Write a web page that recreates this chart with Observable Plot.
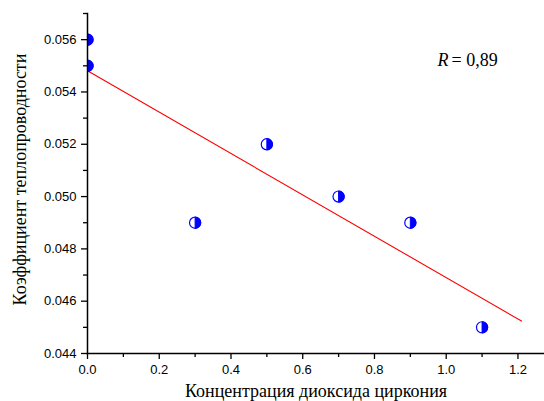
<!DOCTYPE html>
<html>
<head>
<meta charset="utf-8">
<script src="https://cdn.jsdelivr.net/npm/d3@7"></script>
<script src="https://cdn.jsdelivr.net/npm/@observablehq/plot@0.6"></script>
<style>
  html, body { margin: 0; padding: 0; background: #fff; }
</style>
</head>
<body>
<div id="chart"></div>
<script>
// Data
const concentration = [0, 0, 0.3, 0.5, 0.7, 0.9, 1.1];
const conductivity = [0.056, 0.055, 0.049, 0.052, 0.050, 0.049, 0.045];
const fitX = [0, 1.21];
const fitY = [0.05481, 0.04524];
const xTicks = [0, 0.2, 0.4, 0.6, 0.8, 1.0, 1.2];
const xMinor = [0.1, 0.3, 0.5, 0.7, 0.9, 1.1];
const yTicks = [0.044, 0.046, 0.048, 0.050, 0.052, 0.054, 0.056];
const yMinor = [0.045, 0.047, 0.049, 0.051, 0.053, 0.055, 0.057];
const xLabel = "Концентрация диоксида циркония";
const yLabel = "Коэффициент теплопроводности";
const rLabel = "R";
const rValue = "= 0,89";

const points = concentration.map((x, i) => ({x, y: conductivity[i]}));
const fit = fitX.map((x, i) => ({x, y: fitY[i]}));

const rightHalf = {
  draw(context, size) {
    const r = Math.sqrt(size / Math.PI);
    context.moveTo(0, -r);
    context.arc(0, 0, r, -Math.PI / 2, Math.PI / 2);
    context.closePath();
  }
};

const chart = Plot.plot({
  width: 544,
  height: 401,
  marginLeft: 87,
  marginRight: 0,
  marginTop: 13,
  marginBottom: 48,
  x: {domain: [0, 1.274]},
  y: {domain: [0.044, 0.057]},
  marks: [
    Plot.line(fit, {x: "x", y: "y", stroke: "#ff0000", strokeWidth: 1.1}),
    Plot.dot(points, {x: "x", y: "y", r: 5.6, fill: "#fff", stroke: "#0000ff", strokeWidth: 1.2, clip: true}),
    Plot.dot(points, {x: "x", y: "y", r: 5.6, symbol: rightHalf, fill: "#0000ff", stroke: "#0000ff", strokeWidth: 1, clip: true}),
    Plot.axisY({ticks: yTicks, tickFormat: d3.format(".3f"), tickSize: 6, tickPadding: 5, label: null, strokeWidth: 1.3, fontFamily: "Liberation Sans", fontSize: 13}),
    Plot.axisY({ticks: yMinor, tickFormat: () => "", tickSize: 4, label: null, strokeWidth: 1.3}),
    Plot.axisX({ticks: xTicks, tickFormat: d3.format(".1f"), tickSize: 6, tickPadding: 5, label: null, strokeWidth: 1.3, fontFamily: "Liberation Sans", fontSize: 13}),
    Plot.axisX({ticks: xMinor, tickFormat: () => "", tickSize: 4, label: null, strokeWidth: 1.3}),
    Plot.frame({anchor: "left", strokeWidth: 1.5}),
    Plot.frame({anchor: "bottom", strokeWidth: 1.5}),
    Plot.text([xLabel], {frameAnchor: "bottom", text: d => d, dy: 43, lineAnchor: "bottom", fontSize: 18, fontFamily: "Liberation Serif"}),
    Plot.text([yLabel], {frameAnchor: "left", text: d => d, dx: -67, dy: -4, rotate: -90, textAnchor: "middle", lineAnchor: "middle", fontSize: 18, fontFamily: "Liberation Serif"}),
    Plot.text([rLabel], {frameAnchor: "top-right", text: d => d, dx: -96, dy: 52, textAnchor: "end", lineAnchor: "bottom", fontSize: 18, fontStyle: "italic", fontFamily: "Liberation Serif"}),
    Plot.text([rValue], {frameAnchor: "top-right", text: d => d, dx: -93, dy: 52, textAnchor: "start", lineAnchor: "bottom", fontSize: 18, fontFamily: "Liberation Serif"})
  ]
});
chart.setAttribute("font-family", "Liberation Sans");
chart.setAttribute("font-size", "13");
const serifTexts = [xLabel, yLabel, rLabel, rValue];
chart.querySelectorAll("text").forEach(t => {
  const fam = serifTexts.includes(t.textContent) ? "Liberation Serif" : "Liberation Sans";
  t.setAttribute("font-family", fam);
  t.style.fontFamily = fam;
});
document.getElementById("chart").appendChild(chart);
</script>
</body>
</html>
